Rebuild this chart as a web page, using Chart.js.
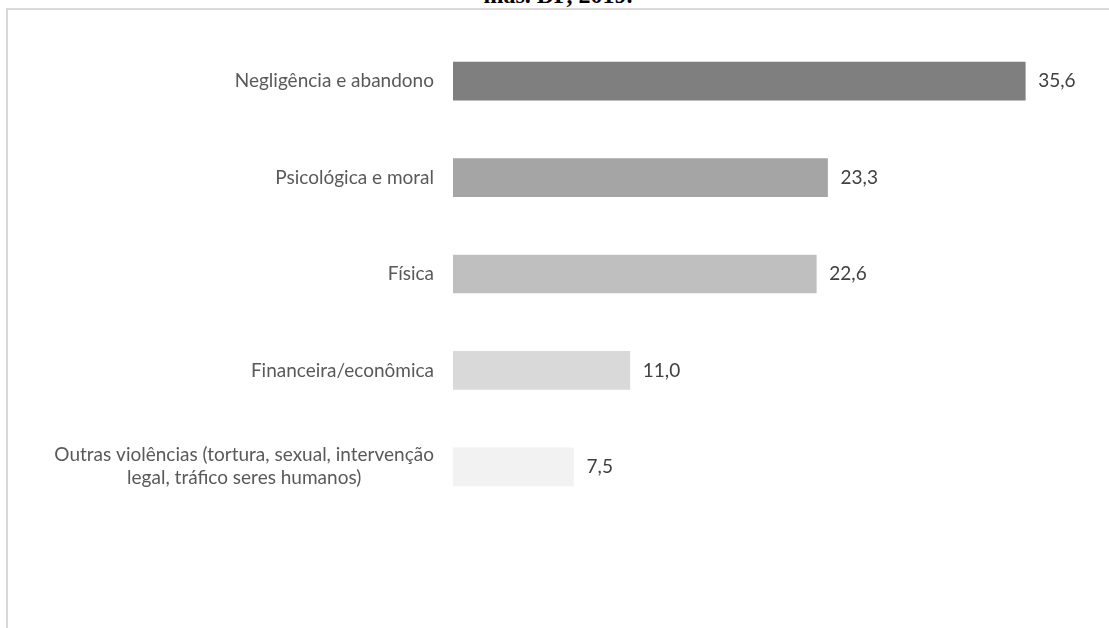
<!DOCTYPE html>
<html lang="pt-BR">
<head>
<meta charset="utf-8">
<title>Tipos de violência</title>
<script src="https://cdn.jsdelivr.net/npm/chart.js@4/dist/chart.umd.min.js"></script>
<style>
    html, body { margin: 0; padding: 0; background: #fff; overflow: hidden; }
    body { width: 1109px; height: 628px; position: relative; }
    .title {
        position: absolute; left: 0; width: 1116px; top: -18px;
        text-align: center; font: bold 24px "Liberation Serif", "DejaVu Serif", serif; color: #000;
        white-space: nowrap;
    }
    .frame {
        position: absolute; left: 6px; top: 8px; width: 1120px; height: 640px;
        border: 2px solid #d9d9d9; box-sizing: border-box;
    }
    #violenciaChart { position: absolute; left: 0; top: 0; }
</style>
</head>
<body>
<div class="title">mas. DF, 2019.</div>
<div class="frame"></div>
<canvas id="violenciaChart" width="1109" height="628"></canvas>
<script>
    // tipos de violência e percentuais
    const categorias = [
        'Negligência e abandono',
        'Psicológica e moral',
        'Física',
        'Financeira/econômica',
        ['Outras violências (tortura, sexual, intervenção', 'legal, tráfico seres humanos)']
    ];
    const percentuais = [35.6, 23.3, 22.6, 11.0, 7.5];
    const cores = ['#7f7f7f', '#a5a5a5', '#bfbfbf', '#d9d9d9', '#f2f2f2'];

    const FONTE = '"Lato", "Open Sans", sans-serif';
    const EIXO_ESQ = 453;

    // rótulos das categorias: bloco alinhado à direita, linhas centralizadas entre si
    const rotulosCategoria = {
        id: 'rotulosCategoria',
        afterDraw(chart) {
            const ctx = chart.ctx;
            const y = chart.scales.y;
            const lineH = 23;
            ctx.save();
            ctx.font = '19px ' + FONTE;
            ctx.fillStyle = '#595959';
            ctx.textAlign = 'center';
            ctx.textBaseline = 'middle';
            categorias.forEach((cat, i) => {
                const linhas = Array.isArray(cat) ? cat : [cat];
                const larg = Math.max(...linhas.map(l => ctx.measureText(l).width));
                const cx = 434 - larg / 2;
                const cy = y.getPixelForValue(i);
                linhas.forEach((l, j) => {
                    ctx.fillText(l, cx, cy + (j - (linhas.length - 1) / 2) * lineH);
                });
            });
            ctx.restore();
        }
    };

    // valores ao fim de cada barra
    const rotulosValor = {
        id: 'rotulosValor',
        afterDatasetsDraw(chart) {
            const ctx = chart.ctx;
            const meta = chart.getDatasetMeta(0);
            ctx.save();
            ctx.font = '19px ' + FONTE;
            ctx.fillStyle = '#404040';
            ctx.textAlign = 'left';
            ctx.textBaseline = 'middle';
            meta.data.forEach((bar, i) => {
                ctx.fillText(percentuais[i].toFixed(1).replace('.', ','), bar.x + 13, bar.y);
            });
            ctx.restore();
        }
    };

    new Chart(document.getElementById('violenciaChart'), {
        type: 'bar',
        data: {
            labels: categorias,
            datasets: [{
                data: percentuais,
                backgroundColor: cores,
                borderWidth: 0,
                barThickness: 38
            }]
        },
        options: {
            indexAxis: 'y',
            responsive: false,
            animation: false,
            layout: { padding: { left: 0, right: 13, top: 33, bottom: 113 } },
            scales: {
                x: {
                    display: false,
                    min: 0,
                    max: 40
                },
                y: {
                    grid: { display: false },
                    border: { display: false },
                    ticks: { display: false },
                    afterFit(scale) { scale.width = EIXO_ESQ; }
                }
            },
            plugins: {
                legend: { display: false },
                tooltip: { enabled: false }
            }
        },
        plugins: [rotulosCategoria, rotulosValor]
    });
</script>
</body>
</html>
